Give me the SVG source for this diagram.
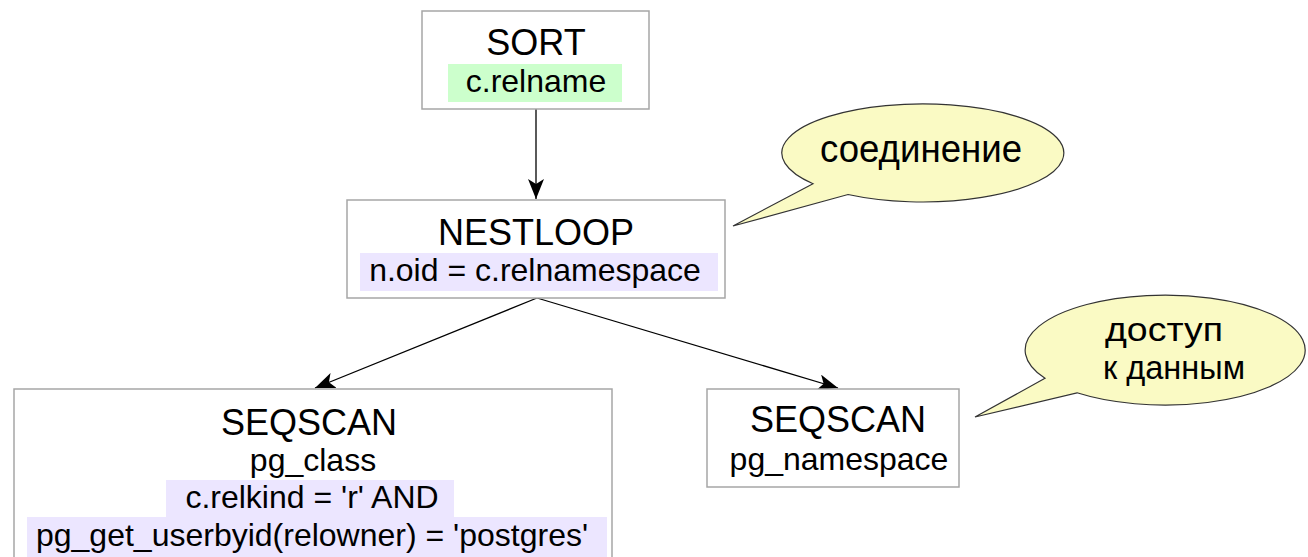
<svg xmlns="http://www.w3.org/2000/svg" width="1308" height="557" viewBox="0 0 1308 557">
  <style>
    .box { fill: #ffffff; stroke: #a6a6a6; stroke-width: 1.5; }
    .title { font-family: "Liberation Sans", Arial, sans-serif; font-size: 36px; fill: #000; text-anchor: middle; }
    .sub { font-family: "Liberation Sans", Arial, sans-serif; font-size: 32px; fill: #000; text-anchor: middle; }
    .hl-green { fill: #ccffcc; }
    .hl-purple { fill: #ece6ff; }
    .edge { fill: none; stroke: #000; stroke-width: 1.3; marker-end: url(#arrow); }
    .bubble { fill: #fafac4; stroke: #333; stroke-width: 1.2; }
    .btext { font-family: "Liberation Sans", Arial, sans-serif; font-size: 38px; fill: #000; text-anchor: middle; }
    .btext2 { font-family: "Liberation Sans", Arial, sans-serif; font-size: 34px; fill: #000; text-anchor: middle; }
  </style>
  <defs>
    <marker id="arrow" markerUnits="userSpaceOnUse" markerWidth="22" markerHeight="16" refX="20" refY="8" orient="auto">
      <path d="M0,0 L20,8 L0,16 L5,8 Z" fill="#000"/>
    </marker>
  </defs>
  <rect width="1308" height="557" fill="#ffffff"/>

  <g id="connectors">
    <line class="edge" x1="536" y1="109" x2="536" y2="199"/>
    <line class="edge" x1="537" y1="298" x2="315" y2="388"/>
    <line class="edge" x1="537" y1="298" x2="838" y2="388"/>
  </g>

  <g id="node-sort">
    <rect class="box" x="422" y="11" width="227" height="98"/>
    <text class="title" x="536" y="55">SORT</text>
    <rect class="hl-green" x="448" y="64" width="174" height="38"/>
    <text class="sub" x="536" y="92">c.relname</text>
  </g>

  <g id="node-nestloop">
    <rect class="box" x="347" y="200" width="378" height="98"/>
    <text class="title" x="536" y="245">NESTLOOP</text>
    <rect class="hl-purple" x="360" y="253" width="358" height="38"/>
    <text class="sub" x="535" y="281">n.oid = c.relnamespace</text>
  </g>

  <g id="node-seqscan-class">
    <rect class="box" x="14" y="389" width="598" height="180"/>
    <text class="title" x="309" y="435">SEQSCAN</text>
    <text class="sub" x="313" y="471">pg_class</text>
    <rect class="hl-purple" x="166" y="480" width="288" height="37"/>
    <rect class="hl-purple" x="27" y="517" width="580" height="40"/>
    <text class="sub" x="312" y="508">c.relkind = 'r' AND</text>
    <text class="sub" x="312" y="546">pg_get_userbyid(relowner) = 'postgres'</text>
  </g>

  <g id="node-seqscan-namespace">
    <rect class="box" x="707" y="389" width="252" height="98"/>
    <text class="title" x="838" y="432">SEQSCAN</text>
    <text class="sub" x="839" y="470">pg_namespace</text>
  </g>

  <g id="callout-join">
    <path class="bubble" d="M813,183.7 L733,226 L848,194.5 A141,49 0 1 0 813,183.7 Z"/>
    <text class="btext" x="921" y="162" textLength="202" lengthAdjust="spacingAndGlyphs">соединение</text>
  </g>

  <g id="callout-access">
    <path class="bubble" d="M1045,378.3 L975,417 L1077,392.8 A140,55 0 1 0 1045,378.3 Z"/>
    <text class="btext2" x="1164" y="341" textLength="118" lengthAdjust="spacingAndGlyphs">доступ</text>
    <text class="btext2" x="1174" y="379" textLength="142" lengthAdjust="spacingAndGlyphs">к данным</text>
  </g>
</svg>
